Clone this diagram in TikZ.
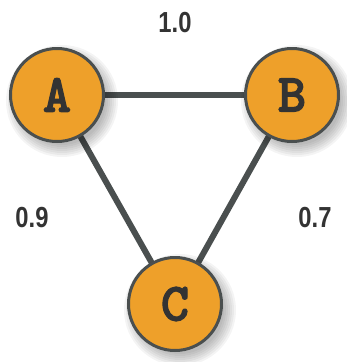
\documentclass[tikz,border=0pt]{standalone}
\usepackage{fontspec}
\setmainfont{Liberation Sans}
\newfontfamily\weightfontx{Liberation Sans}[FakeStretch=0.82]
\newfontfamily\lettersfontx{lmmonolt10-bold.otf}[FakeBold=2]
\usetikzlibrary{backgrounds}
\definecolor{nodeorange}{HTML}{EEA02A}
\definecolor{edgegray}{HTML}{4A4F4F}
\definecolor{labgray}{HTML}{333333}
\tikzset{
  vertex/.style={circle, draw=edgegray, line width=3pt, fill=nodeorange,
    minimum size=93pt, inner sep=0pt, text=labgray,
    font=\lettersfontx\fontsize{54}{54}\selectfont},
  link/.style={draw=edgegray, line width=6pt},
  weight/.style={text=labgray, font=\weightfontx\bfseries\fontsize{29}{29}\selectfont, inner sep=0pt}
}
\begin{document}
\begin{tikzpicture}[x=1pt,y=1pt]
\useasboundingbox (0,0) rectangle (346,-362);
\node[vertex] (A) at (57,-95) {A};
\node[vertex] (B) at (292,-95) {B};
\node[vertex] (C) at (175,-304) {C};
\begin{scope}[on background layer]
  \draw[link] (A.center) -- (B.center);
  \draw[link] (A.center) -- (C.center);
  \draw[link] (B.center) -- (C.center);
  \foreach \n in {A,B,C}{
    \foreach \r in {44,46,...,56}{
      \fill[black, opacity=0.045] ([shift={(5,-6)}]\n.center) circle (\r);
    }
  }
\end{scope}
\node[weight] (w1) at (175,-23) {1.0};
\node[weight] (w2) at (32,-218) {0.9};
\node[weight] (w3) at (315,-218) {0.7};
\end{tikzpicture}
\end{document}
